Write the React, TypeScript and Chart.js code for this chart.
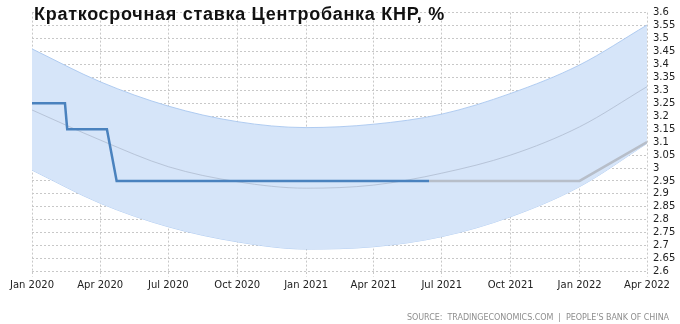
import React, { useEffect, useRef } from "react";
import { Chart, registerables } from "chart.js";

Chart.register(...registerables);

const titleText = "Краткосрочная ставка Центробанка КНР, %";
const sourceText = "SOURCE:  TRADINGECONOMICS.COM  |  PEOPLE'S BANK OF CHINA";

const tickDates = ["2020-01-01", "2020-04-01", "2020-07-01", "2020-10-01", "2021-01-01", "2021-04-01", "2021-07-01", "2021-10-01", "2022-01-01", "2022-04-01"];
const tickLabels = ["Jan 2020", "Apr 2020", "Jul 2020", "Oct 2020", "Jan 2021", "Apr 2021", "Jul 2021", "Oct 2021", "Jan 2022", "Apr 2022"];
const yTicks = [2.6, 2.65, 2.7, 2.75, 2.8, 2.85, 2.9, 2.95, 3, 3.05, 3.1, 3.15, 3.2, 3.25, 3.3, 3.35, 3.4, 3.45, 3.5, 3.55, 3.6];

const actualDates = ["2020-01-01", "2020-02-14", "2020-02-17", "2020-04-10", "2020-04-23", "2021-06-14"];
const actualValues = [3.25, 3.25, 3.15, 3.15, 2.95, 2.95];

const forecastDates = ["2021-06-14", "2022-01-01", "2022-04-01"];
const forecastValues = [2.95, 2.95, 3.1];

const bandDates = ["2020-01-01", "2020-04-01", "2020-07-01", "2020-10-01", "2021-01-01", "2021-04-01", "2021-07-01", "2021-10-01", "2022-01-01", "2022-04-01"];
const bandUpper = [3.46, 3.333, 3.239, 3.179, 3.156, 3.169, 3.208, 3.288, 3.398, 3.552];
const bandMiddle = [3.224, 3.108, 3.005, 2.947, 2.922, 2.934, 2.98, 3.05, 3.159, 3.314];
const bandLower = [2.992, 2.864, 2.773, 2.715, 2.687, 2.696, 2.735, 2.812, 2.928, 3.095];

const BASE = Date.UTC(2020, 0, 1);
function dayOf(s: string): number {
  const [y, m, d] = s.split("-").map(Number);
  return (Date.UTC(y, m - 1, d) - BASE) / 86400000;
}
function pts(dates: string[], vals: number[]) {
  return dates.map((d, i) => ({ x: dayOf(d), y: vals[i] }));
}

const W = 680;
const H = 324;

function fitText(ctx: CanvasRenderingContext2D, text: string, width: number) {
  (ctx as any).letterSpacing = "0px";
  const base = ctx.measureText(text).width;
  const ls = (width - base) / text.length;
  (ctx as any).letterSpacing = ls + "px";
}

export default function App() {
  const ref = useRef<HTMLCanvasElement | null>(null);

  useEffect(() => {
    document.body.style.margin = "0";
    const canvas = ref.current!;
    const tickDays = tickDates.map(dayOf);

    const overlay = {
      id: "overlay",
      afterDraw(chart: any) {
        const ctx = chart.ctx as CanvasRenderingContext2D;
        ctx.save();
        ctx.fillStyle = "#111";
        ctx.font = "bold 18px 'Liberation Sans', Arial, sans-serif";
        ctx.textBaseline = "alphabetic";
        ctx.textAlign = "left";
        fitText(ctx, titleText, 411);
        ctx.fillText(titleText, 34, 20);

        ctx.font = "8px 'DejaVu Sans', sans-serif";
        ctx.fillStyle = "#8e8e8e";
        fitText(ctx, sourceText, 262);
        ctx.fillText(sourceText, 407, 320);
        ctx.restore();
      },
    };

    const chart = new Chart(canvas, {
      type: "line",
      data: {
        datasets: [
          {
            data: pts(actualDates, actualValues),
            borderColor: "#4a82be",
            borderWidth: 2.5,
            pointRadius: 0,
            tension: 0,
            fill: false,
          },
          {
            data: pts(forecastDates, forecastValues),
            borderColor: "#b7bec9",
            borderWidth: 2.5,
            pointRadius: 0,
            tension: 0,
            fill: false,
          },
          {
            data: pts(bandDates, bandMiddle),
            borderColor: "rgba(175,188,208,0.8)",
            borderWidth: 1,
            pointRadius: 0,
            cubicInterpolationMode: "monotone",
            fill: false,
          },
          {
            data: pts(bandDates, bandUpper),
            borderColor: "rgba(170,200,240,0.9)",
            borderWidth: 1,
            pointRadius: 0,
            cubicInterpolationMode: "monotone",
            fill: "+1",
            backgroundColor: "rgba(214,229,249,1)",
          },
          {
            data: pts(bandDates, bandLower),
            borderColor: "rgba(170,200,240,0.9)",
            borderWidth: 1,
            pointRadius: 0,
            cubicInterpolationMode: "monotone",
            fill: false,
          },
        ],
      },
      options: {
        animation: false,
        responsive: false,
        devicePixelRatio: 1,
        layout: { padding: { left: 32, right: 0, top: 12.6, bottom: 0 } },
        plugins: {
          legend: { display: false },
          tooltip: { enabled: false },
          title: { display: false },
        },
        scales: {
          x: {
            type: "linear",
            min: dayOf(tickDates[0]),
            max: dayOf(tickDates[tickDates.length - 1]),
            afterBuildTicks: (scale: any) => {
              scale.ticks = tickDays.map((v) => ({ value: v }));
            },
            afterFit: (scale: any) => {
              scale.height = 52.4;
            },
            ticks: {
              autoSkip: false,
              maxRotation: 0,
              padding: 3,
              color: "#222",
              font: { family: "'DejaVu Sans', sans-serif", size: 10 },
              callback: (v: any) => {
                const i = tickDays.indexOf(Number(v));
                return i >= 0 ? tickLabels[i] : "";
              },
            },
            grid: {
              color: "#c8c8c8",
              tickLength: 5,
              tickColor: "#c8c8c8",
              tickBorderDash: [2, 2],
              drawOnChartArea: true,
            },
            border: { display: false, dash: [2, 2] },
          },
          y: {
            position: "right",
            min: 2.6,
            max: 3.6,
            afterBuildTicks: (scale: any) => {
              scale.ticks = yTicks.map((v) => ({ value: v }));
            },
            afterFit: (scale: any) => {
              scale.width = 33;
            },
            ticks: {
              autoSkip: false,
              padding: 6,
              color: "#222",
              font: { family: "'DejaVu Sans', sans-serif", size: 10 },
              callback: (v: any) => String(Math.round(Number(v) * 100) / 100),
            },
            grid: {
              color: "#c8c8c8",
              drawTicks: false,
            },
            border: { display: false, dash: [2, 2] },
          },
        },
      },
      plugins: [overlay],
    } as any);

    return () => chart.destroy();
  }, []);

  return (
    <div style={{ width: W, height: H }}>
      <canvas ref={ref} width={W} height={H} style={{ display: "block", width: W, height: H }} />
    </div>
  );
}
